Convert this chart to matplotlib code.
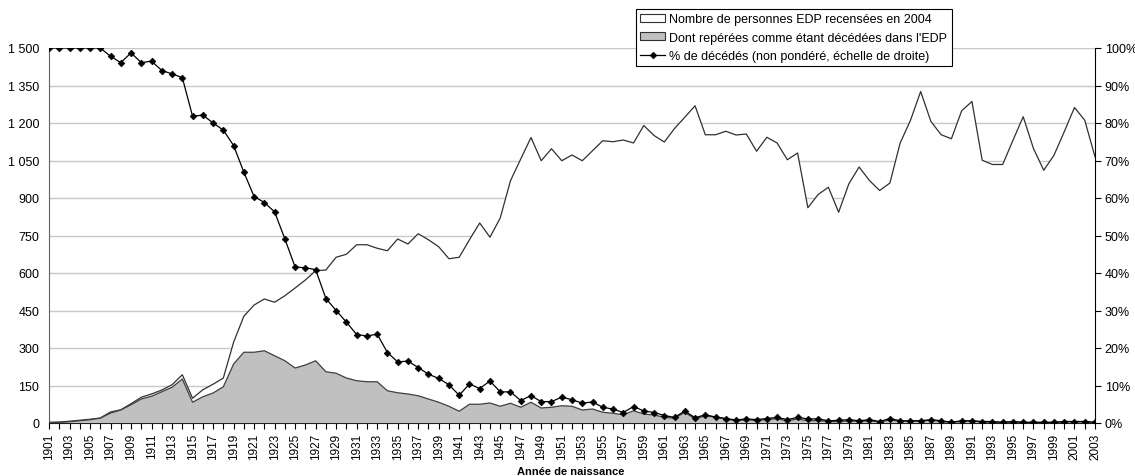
import numpy as np
import matplotlib
matplotlib.use("Agg")
from matplotlib import pyplot as plt
from matplotlib.patches import Patch
from matplotlib.lines import Line2D
from matplotlib.ticker import FuncFormatter

plt.rcParams['font.family'] = ['Liberation Sans', 'DejaVu Sans']

annees = list(range(1901, 2004))

# nombre de personnes EDP recensées en 2004
recensees = [
    3, 4, 7, 11, 15, 20, 44, 53, 77, 103,
    116, 132, 153, 193, 99, 133, 155, 180, 323, 427,
    472, 496, 483, 509, 540, 572, 609, 612, 663, 675,
    713, 713, 699, 689, 736, 716, 757, 733, 705, 657,
    663, 733, 800, 743, 820, 969, 1056, 1142, 1049, 1097,
    1049, 1072, 1049, 1089, 1129, 1125, 1132, 1120, 1190, 1150,
    1124, 1178, 1223, 1269, 1153, 1153, 1167, 1152, 1156, 1087,
    1143, 1120, 1053, 1080, 861, 914, 943, 843, 957, 1024,
    970, 930, 960, 1120, 1210, 1326, 1206, 1153, 1137, 1249,
    1286, 1051, 1034, 1034, 1131, 1225, 1098, 1011, 1071, 1165,
    1262, 1211, 1065,
]

# dont repérées comme décédées
decedees = [
    1, 2, 5, 9, 13, 19, 40, 52, 73, 96,
    107, 125, 143, 176, 83, 105, 120, 145, 236, 283,
    283, 289, 269, 249, 220, 232, 249, 205, 199, 180,
    169, 165, 165, 129, 121, 116, 109, 96, 83, 67,
    47, 75, 75, 80, 67, 79, 63, 83, 60, 63,
    69, 67, 52, 56, 43, 39, 33, 49, 36, 32,
    23, 19, 43, 16, 29, 23, 16, 9, 13, 10,
    14, 17, 9, 16, 9, 10, 6, 5, 9, 6,
    9, 4, 12, 7, 7, 8, 11, 7, 2, 7,
    8, 4, 4, 2, 5, 2, 2, 2, 2, 5,
    5, 5, 2,
]

# % de décédés (non pondéré)
pct_decedes = [
    100, 100, 100, 100, 100, 100, 97.8, 96.1, 98.7, 96.1,
    96.5, 94.0, 93.1, 92.1, 81.8, 82.1, 80.0, 78.1, 74.0, 66.9,
    60.4, 58.8, 56.3, 49.1, 41.6, 41.4, 40.9, 33.2, 30.0, 26.9,
    23.6, 23.2, 23.7, 18.8, 16.3, 16.5, 14.8, 13.0, 11.9, 10.2,
    7.4, 10.4, 9.2, 11.2, 8.3, 8.3, 6.0, 7.3, 5.7, 5.7,
    6.9, 6.2, 5.3, 5.6, 4.2, 3.7, 2.8, 4.4, 3.2, 2.8,
    2.0, 1.5, 3.2, 1.4, 2.2, 1.6, 1.2, 0.8, 1.1, 0.9,
    1.2, 1.5, 0.9, 1.5, 1.1, 1.1, 0.6, 0.7, 0.9, 0.6,
    0.9, 0.4, 1.2, 0.6, 0.6, 0.6, 0.9, 0.6, 0.2, 0.6,
    0.6, 0.4, 0.4, 0.2, 0.4, 0.2, 0.2, 0.2, 0.2, 0.4,
    0.4, 0.4, 0.2,
]

fig = plt.figure(figsize=(11.35, 4.77), dpi=100)
ax = fig.add_axes([49/1135, 1 - 424/477, (1095 - 49)/1135, (424 - 49)/477])

gris = '#c0c0c0'
ax.fill_between(annees, 0, recensees, facecolor='white', edgecolor='none', zorder=2)
ax.plot(annees, recensees, color='#303030', lw=0.9, zorder=3)
ax.fill_between(annees, 0, decedees, facecolor=gris, edgecolor='none', zorder=4)
ax.plot(annees, decedees, color='#404040', lw=0.9, zorder=5)

ax.set_xlim(1901, 2003)
ax.set_ylim(0, 1500)
ax.set_yticks(range(0, 1501, 150))
ax.yaxis.set_major_formatter(FuncFormatter(lambda v, p: '{:,}'.format(int(v)).replace(',', ' ')))
ax.grid(axis='y', color='#c8c8c8', lw=1.0, zorder=0)
ax.set_axisbelow(True)

ax.set_xticks(annees)
ax.set_xticklabels([str(a) if a % 2 == 1 else '' for a in annees], rotation=90, fontsize=8.5)
ax.tick_params(axis='x', length=4, width=0.8, pad=3)
ax.tick_params(axis='y', length=0, labelsize=9, pad=7)
for s in ['top', 'right']:
    ax.spines[s].set_visible(False)
ax.spines['left'].set_color('#606060')
ax.spines['bottom'].set_color('#202020')
fig.text(571/1135, 1 - 472/477, 'Année de naissance', fontsize=8, fontweight='bold',
         ha='center', va='center')

ax2 = ax.twinx()
ax2.plot(annees, pct_decedes, color='black', lw=0.9, marker='D', markersize=3.4,
         markeredgewidth=0.5, zorder=6)
ax2.set_ylim(0, 100)
ax2.set_yticks(range(0, 101, 10))
ax2.yaxis.set_major_formatter(FuncFormatter(lambda v, p: '{}%'.format(int(v))))
ax2.tick_params(axis='y', length=4, width=0.8, labelsize=9, pad=3)
for s in ['top', 'left', 'bottom']:
    ax2.spines[s].set_visible(False)
ax2.spines['right'].set_color('black')

handles = [
    Patch(facecolor='white', edgecolor='#303030', lw=0.8),
    Patch(facecolor=gris, edgecolor='#303030', lw=0.8),
    Line2D([], [], color='black', lw=0.9, marker='D', markersize=3.4, markeredgewidth=0.5),
]
labels = [
    'Nombre de personnes EDP recensées en 2004',
    "Dont repérées comme étant décédées dans l'EDP",
    '% de décédés (non pondéré, échelle de droite)',
]
leg = fig.legend(handles, labels, loc='upper left', bbox_to_anchor=(636/1135, 1 - 10/477),
                 fontsize=9, frameon=True, fancybox=False, framealpha=1, edgecolor='black',
                 handlelength=2.0, handleheight=0.6, handletextpad=0.3, labelspacing=0.5,
                 borderpad=0.35, borderaxespad=0)
leg.get_frame().set_linewidth(0.8)

fig.savefig('out.png', dpi=100)
